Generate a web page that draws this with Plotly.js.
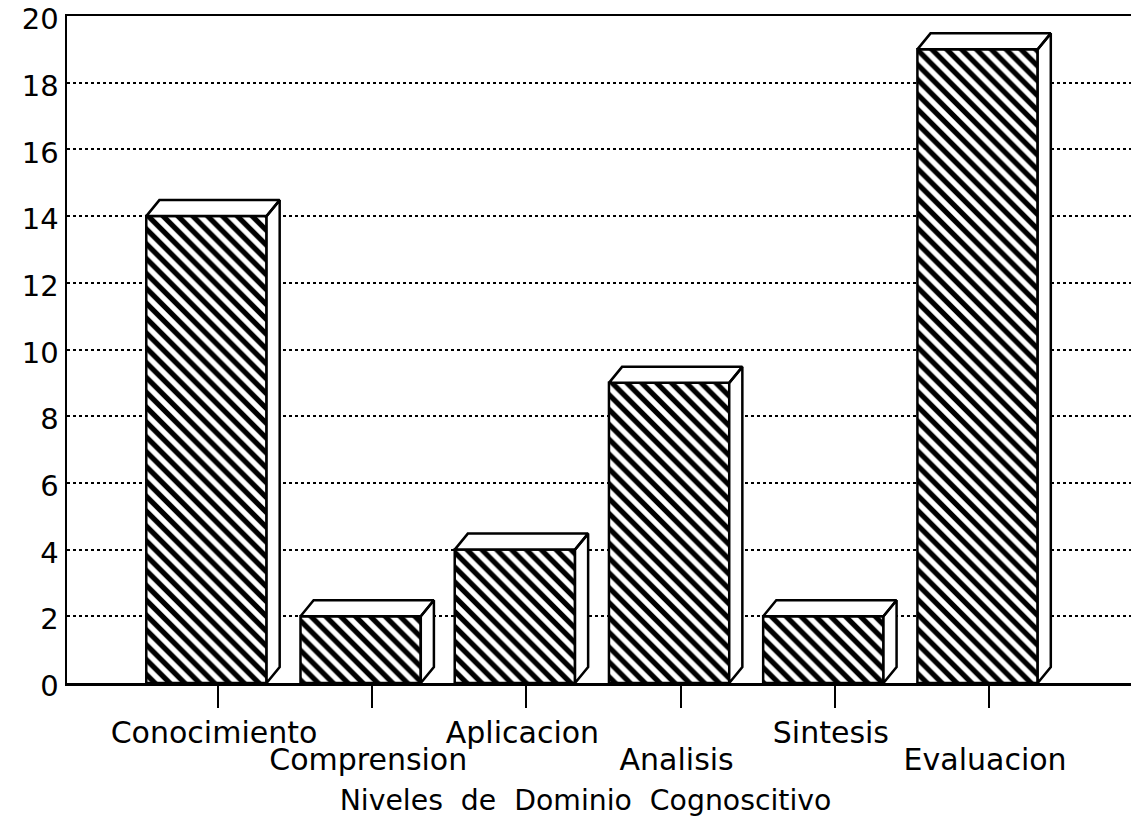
<!DOCTYPE html>
<html>
<head>
<meta charset="utf-8">
<script src="https://cdn.plot.ly/plotly-3.0.1.min.js"></script>
<style>html,body{margin:0;padding:0;background:#fff}#chart{width:1131px;height:817px}</style>
</head>
<body>
<div id="chart"></div>
<script>
const categories = ["Conocimiento","Comprension","Aplicacion","Analisis","Sintesis","Evaluacion"];
const values = [14, 2, 4, 9, 2, 19];
const yTicks = [0,2,4,6,8,10,12,14,16,18,20];
const xTitle = "Niveles  de  Dominio  Cognoscitivo&nbsp;&nbsp;&nbsp;";

const positions = categories.map((_, i) => i);
const tickLabels = categories.map((c, i) => (i % 2 ? "&nbsp;<br>" : "") + '<span style="font-size:30px">' + c + "</span>");
const barShift = -0.075, barWidth = 0.78, depthX = 0.085, depthY = 0.48;
const font = {family: "DejaVu Sans", color: "#000"};

const faceX = [], faceY = [];
values.forEach((v, i) => {
  const x0 = i + barShift - barWidth / 2, x1 = x0 + barWidth;
  faceX.push(x0, x0 + depthX, x1 + depthX, x1, x0, null);
  faceY.push(v, v + depthY, v + depthY, v, v, null);
  faceX.push(x1, x1 + depthX, x1 + depthX, x1, x1, null);
  faceY.push(v, v + depthY, depthY, 0, v, null);
});

const traces = [
  {type: "bar", x: positions.map(p => p + barShift), y: values, width: barWidth,
   marker: {color: "#fff", line: {color: "#000", width: 2.5},
            pattern: {shape: "\\", size: 10.5, solidity: 0.5, fgcolor: "#000", bgcolor: "#fff", fgopacity: 1}}},
  {type: "scatter", mode: "lines", x: faceX, y: faceY, fill: "toself", fillcolor: "#fff",
   line: {color: "#000", width: 2.5}, connectgaps: false}
];

const layout = {
  width: 1131, height: 817, showlegend: false, hovermode: false,
  paper_bgcolor: "#fff", plot_bgcolor: "#fff",
  margin: {l: 67, r: 0, t: 15.5, b: 133.5, autoexpand: false},
  xaxis: {range: [-0.979, 5.92], tickmode: "array", tickvals: positions, ticktext: tickLabels,
          tickangle: 0, ticks: "outside", ticklen: 22, tickwidth: 2, tickcolor: "#000",
          ticklabelshift: -4, ticklabelstandoff: 10,
          showgrid: false, zeroline: false, showline: true, mirror: true, linecolor: "#000", linewidth: 2.5,
          tickfont: Object.assign({size: 21}, font),
          title: {text: xTitle, font: Object.assign({size: 28.3}, font), standoff: 18}, automargin: false},
  yaxis: {range: [0, 20], tickmode: "array", tickvals: yTicks, ticks: "", showgrid: true,
          gridcolor: "#000", griddash: "dot", gridwidth: 2, zeroline: false, showline: true,
          ticklabeloverflow: "allow", ticklabelshift: 3,
          linecolor: "#000", linewidth: 2.5, tickfont: Object.assign({size: 29}, font), automargin: false}
};

Plotly.newPlot("chart", traces, layout, {displayModeBar: false, staticPlot: true});
</script>
</body>
</html>
